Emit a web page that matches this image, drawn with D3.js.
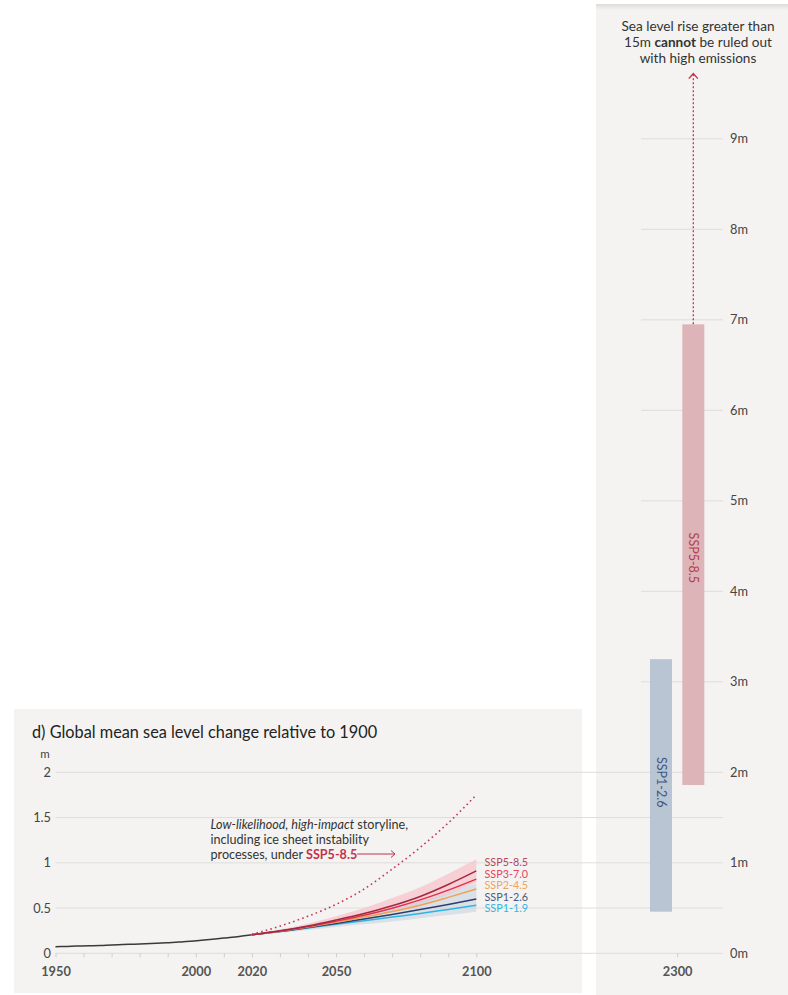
<!DOCTYPE html>
<html><head><meta charset="utf-8">
<script src="https://cdn.jsdelivr.net/npm/d3@7"></script>
<style>
html,body{margin:0;padding:0;background:#fff;}
svg{display:block;font-family:Lato,"Noto Sans",sans-serif;}
</style></head>
<body>
<svg id="chart" width="788" height="995"></svg>
<script>
// ---- Data ----
const histYears = [1950,1954,1958,1962,1966,1970,1974,1978,1982,1986,1990,1994,1998,2002,2006,2010,2014,2018,2020];
const histValues = [0.072,0.076,0.080,0.083,0.086,0.092,0.096,0.101,0.106,0.111,0.117,0.124,0.132,0.143,0.155,0.168,0.181,0.198,0.205];

const projYears = [2020,2030,2040,2050,2060,2070,2080,2090,2100];
const ssp119 = [0.205,0.240,0.280,0.320,0.360,0.400,0.440,0.485,0.530];
const ssp126 = [0.205,0.242,0.285,0.330,0.380,0.430,0.483,0.540,0.600];
const ssp245 = [0.205,0.244,0.290,0.342,0.400,0.462,0.532,0.618,0.710];
const ssp370 = [0.205,0.246,0.296,0.355,0.420,0.498,0.590,0.698,0.820];
const ssp585 = [0.205,0.248,0.302,0.368,0.440,0.525,0.628,0.760,0.910];
const band585Low  = [0.205,0.235,0.275,0.330,0.390,0.460,0.545,0.650,0.780];
const band585High = [0.205,0.262,0.330,0.410,0.500,0.610,0.730,0.880,1.040];
const band126Low  = [0.205,0.226,0.258,0.290,0.320,0.352,0.388,0.422,0.460];
const band126High = [0.205,0.256,0.312,0.372,0.432,0.500,0.572,0.660,0.770];
const storyline   = [0.210,0.300,0.410,0.540,0.710,0.930,1.170,1.440,1.750];

const scenarioNames = ["SSP5-8.5","SSP3-7.0","SSP2-4.5","SSP1-2.6","SSP1-1.9"];
const scenarioSeries = [ssp585, ssp370, ssp245, ssp126, ssp119];
const scenarioLine = ["#a3283f","#e2304c","#efa052","#2e3d6b","#2db5e2"];
const scenarioLabel = ["#b34a5c","#e8445e","#f0a458","#4b5a7e","#33b6e4"];

const xTickYears = [1950,1960,1970,1980,1990,2000,2010,2020,2030,2040,2050,2060,2070,2080,2090,2100];
const xLabelYears = [1950,2000,2020,2050,2100];
const yTicksLeft = [0,0.5,1,1.5,2];
const yTickLabelsLeft = ["0","0.5","1","1.5","2"];
const yTicksRight = [0,1,2,3,4,5,6,7,8,9];

const bars2300 = ["SSP1-2.6","SSP5-8.5"];
const bars2300Low = [0.46,1.86];
const bars2300High = [3.25,6.95];
const arrowTopValue = 9.72;

// ---- Setup ----
const svg = d3.select("#chart");
const panelFill = "#f4f3f1";

const defs = svg.append("defs");
const grad = defs.append("linearGradient").attr("id","topShadow").attr("x1",0).attr("x2",0).attr("y1",0).attr("y2",1);
grad.append("stop").attr("offset",0).attr("stop-color","#dddcda");
grad.append("stop").attr("offset",1).attr("stop-color",panelFill);

// panels
svg.append("rect").attr("x",14).attr("y",709).attr("width",568).attr("height",284).attr("fill",panelFill);
svg.append("rect").attr("x",596).attr("y",5).attr("width",192).attr("height",990).attr("fill",panelFill);
svg.append("rect").attr("x",596).attr("y",4).attr("width",192).attr("height",6).attr("fill","url(#topShadow)");

const x = d3.scaleLinear().domain([1950,2100]).range([55.5,476.3]);
const y = d3.scaleLinear().domain([0,2]).range([953.3,772.3]);
const yR = d3.scaleLinear().domain([0,9]).range([953.3,138.8]);
const xR = d3.scaleBand().domain(bars2300).range([650,704.3]).paddingInner(0.32).paddingOuter(0);
const x2300 = (xR.range()[0]+xR.range()[1])/2;

// grid lines
const gridColor = "#dedddb";
svg.append("g").selectAll("line").data(yTicksLeft).join("line")
  .attr("x1",x(1950)).attr("x2",723).attr("y1",d=>y(d)).attr("y2",d=>y(d))
  .attr("stroke",gridColor).attr("stroke-width",1);
svg.append("g").selectAll("line").data(yTicksRight.filter(d=>d>=3)).join("line")
  .attr("x1",641).attr("x2",723).attr("y1",d=>yR(d)).attr("y2",d=>yR(d))
  .attr("stroke",gridColor).attr("stroke-width",1);

// title
svg.append("text").attr("x",32).attr("y",738).attr("font-size",16.3).attr("fill","#222")
  .text("d) Global mean sea level change relative to 1900");
svg.append("text").attr("x",45).attr("y",758).attr("text-anchor","middle").attr("font-size",11.5).attr("fill","#444").text("m");

// left y labels
svg.append("g").selectAll("text").data(yTicksLeft).join("text")
  .attr("x",51).attr("y",d=>y(d)).attr("dy","0.35em").attr("text-anchor","end")
  .attr("font-size",12.8).attr("fill","#444").text((d,i)=>yTickLabelsLeft[i]);

// x axis
const xAxis = d3.axisBottom(x).tickValues(xTickYears).tickSize(4).tickPadding(10)
  .tickFormat(d=>xLabelYears.includes(d)?String(d):"");
const gx = svg.append("g").attr("transform",`translate(0,${y(0)})`).call(xAxis);
gx.select(".domain").remove();
gx.selectAll(".tick line").attr("stroke","#cfcecc");
gx.selectAll(".tick text").attr("font-family","Lato").attr("font-size",12.8).attr("font-weight","bold").attr("fill","#555");

// right x axis (2300)
const gx2 = svg.append("g").attr("transform",`translate(0,${yR(0)})`)
  .call(d3.axisBottom(d3.scaleLinear().domain([2250,2350]).range([x2300-50,x2300+50])).tickValues([2300]).tickSize(4).tickPadding(10).tickFormat(d3.format("d")));
gx2.select(".domain").remove();
gx2.selectAll(".tick line").attr("stroke","#cfcecc");
gx2.selectAll(".tick text").attr("font-family","Lato").attr("font-size",12.8).attr("font-weight","bold").attr("fill","#555");

// right y labels
svg.append("g").selectAll("text").data(yTicksRight).join("text")
  .attr("x",730).attr("y",d=>yR(d)).attr("dy","0.35em")
  .attr("font-size",12.8).attr("fill","#444").text(d=>d+"m");

// bands
const area = (lo,hi)=>d3.area().x((d,i)=>x(projYears[i])).y0((d,i)=>y(lo[i])).y1((d,i)=>y(hi[i])).curve(d3.curveMonotoneX)(projYears);
svg.append("path").attr("d",area(band585Low,band585High)).attr("fill","#f7c9d1").attr("opacity",0.85);
svg.append("path").attr("d",area(band126Low,band126High)).attr("fill","#c4cfe0").attr("opacity",0.55);

// historical
const line = d3.line().curve(d3.curveMonotoneX);
svg.append("path").attr("d",line(histYears.map((yr,i)=>[x(yr),y(histValues[i])])))
  .attr("fill","none").attr("stroke","#3a3a3a").attr("stroke-width",1.5);

// projections (draw lowest first)
for(let k=scenarioSeries.length-1;k>=0;k--){
  svg.append("path").attr("d",line(projYears.map((yr,i)=>[x(yr),y(scenarioSeries[k][i])])))
    .attr("fill","none").attr("stroke",scenarioLine[k]).attr("stroke-width",1.5);
}

// storyline dotted
svg.append("path").attr("d",line(projYears.map((yr,i)=>[x(yr),y(storyline[i])])))
  .attr("fill","none").attr("stroke","#c43a52").attr("stroke-width",1.6).attr("stroke-dasharray","1.6,3.2");

// scenario labels
const labelY = [862.5,874,885.5,897,908.5];
svg.append("g").selectAll("text").data(scenarioNames).join("text")
  .attr("x",484.5).attr("y",(d,i)=>labelY[i]).attr("dy","0.35em")
  .attr("font-size",10.8).attr("fill",(d,i)=>scenarioLabel[i]).text(d=>d);

// annotation
const ann = svg.append("g").attr("font-size",12.6).attr("fill","#333");
const t1 = ann.append("text").attr("x",210.5).attr("y",829);
t1.append("tspan").attr("font-style","italic").text("Low-likelihood, high-impact");
t1.append("tspan").text(" storyline,");
ann.append("text").attr("x",210.5).attr("y",844).text("including ice sheet instability");
const t3 = ann.append("text").attr("x",210.5).attr("y",858.5);
t3.append("tspan").text("processes, under ");
t3.append("tspan").attr("font-weight","bold").attr("fill","#c0344c").text("SSP5-8.5");
const t3end = 210.5 + t3.node().getComputedTextLength();
const arrX = 395, arrY = 854;
svg.append("line").attr("x1",t3end).attr("x2",arrX).attr("y1",arrY).attr("y2",arrY).attr("stroke","#c0344c").attr("stroke-width",1);
svg.append("path").attr("d",`M${arrX-4},${arrY-3.5}L${arrX},${arrY}L${arrX-4},${arrY+3.5}`).attr("fill","none").attr("stroke","#c0344c").attr("stroke-width",1);

// 2300 bars
const barFill = ["#b9c5d2","#ddb4b7"];
const barText = ["#3d5687","#b3404f"];
svg.append("g").selectAll("rect").data(bars2300).join("rect")
  .attr("x",d=>xR(d)).attr("width",xR.bandwidth())
  .attr("y",(d,i)=>yR(bars2300High[i])).attr("height",(d,i)=>yR(bars2300Low[i])-yR(bars2300High[i]))
  .attr("fill",(d,i)=>barFill[i]);
const labelValue = [1.89,4.37];
svg.append("g").selectAll("text").data(bars2300).join("text")
  .attr("transform",(d,i)=>`translate(${xR(d)+xR.bandwidth()/2},${yR(labelValue[i])}) rotate(90)`)
  .attr("text-anchor","middle").attr("dy","0.35em").attr("font-size",12.5)
  .attr("fill",(d,i)=>barText[i]).text(d=>d);

// dotted arrow up from SSP5-8.5 bar
const ax = xR("SSP5-8.5")+xR.bandwidth()/2;
svg.append("line").attr("x1",ax).attr("x2",ax).attr("y1",yR(bars2300High[1])).attr("y2",yR(arrowTopValue))
  .attr("stroke","#c0344c").attr("stroke-width",1.3).attr("stroke-dasharray","2,2");
svg.append("path").attr("d",`M${ax-4.5},${yR(arrowTopValue)+5}L${ax},${yR(arrowTopValue)}L${ax+4.5},${yR(arrowTopValue)+5}`)
  .attr("fill","none").attr("stroke","#c0344c").attr("stroke-width",1.4);

// top note
const note = svg.append("g").attr("font-size",13.6).attr("fill","#333").attr("text-anchor","middle");
note.append("text").attr("x",698).attr("y",31).text("Sea level rise greater than");
const n2 = note.append("text").attr("x",698).attr("y",47);
n2.append("tspan").text("15m ");
n2.append("tspan").attr("font-weight","bold").text("cannot");
n2.append("tspan").text(" be ruled out");
note.append("text").attr("x",698).attr("y",63).text("with high emissions");
</script>
</body></html>
